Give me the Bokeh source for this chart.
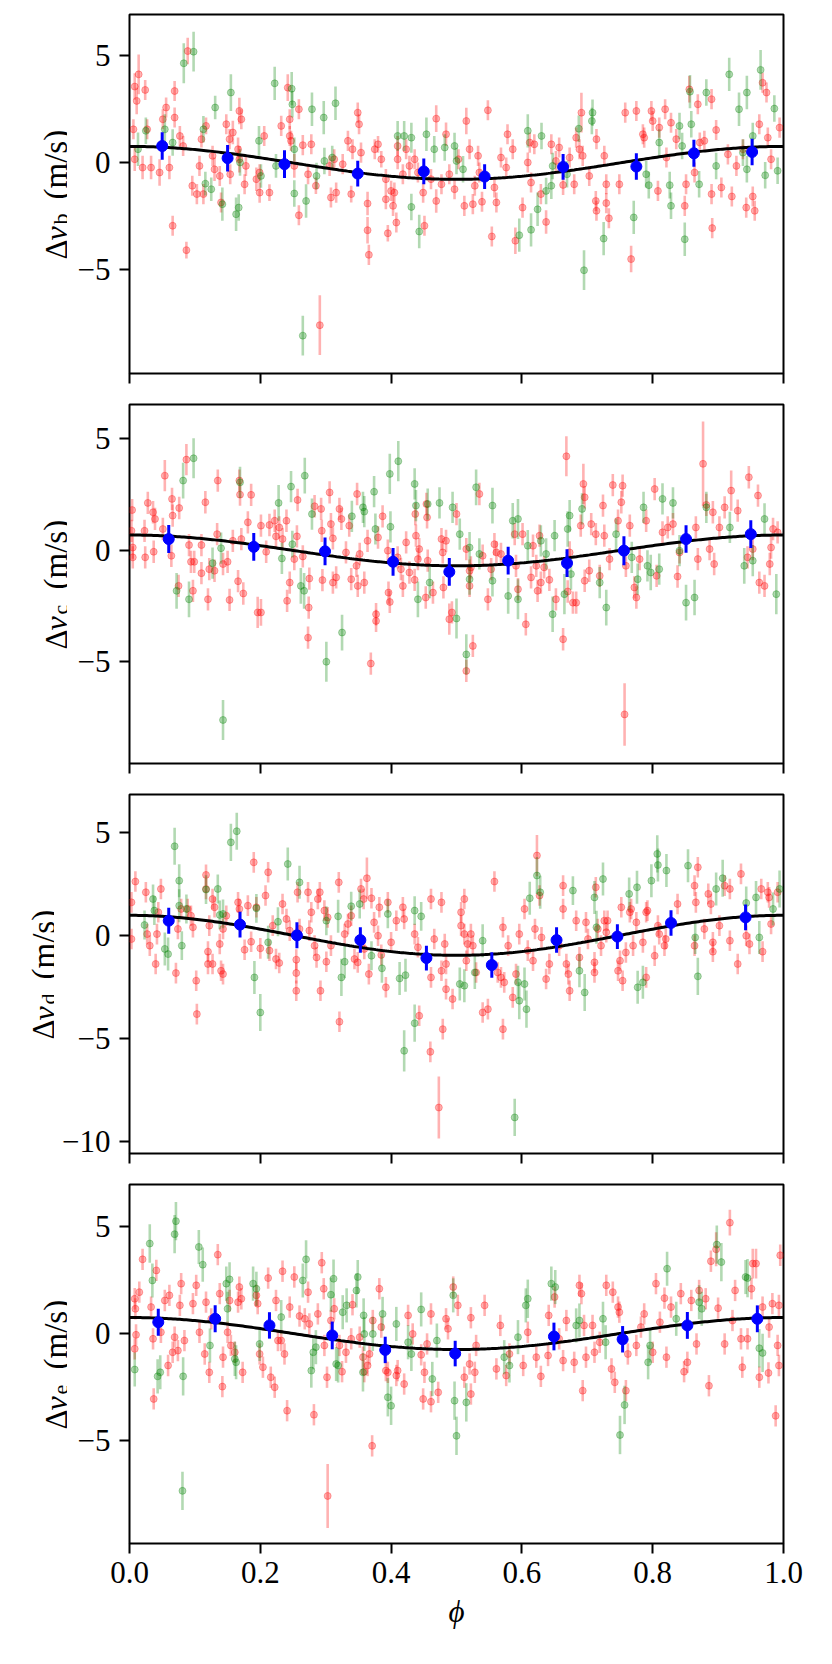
import math
import numpy as np
from bokeh.plotting import figure
from bokeh.layouts import column, row
from bokeh.models import ColumnDataSource, Range1d, FixedTicker, NumeralTickFormatter, Label
from bokeh.embed import file_html
from bokeh.resources import INLINE

FONT = "Liberation Serif, Times New Roman, serif"
PLANETS = ["b", "c", "d", "e"]
PHASE_TICKS = [0.0, 0.2, 0.4, 0.6, 0.8, 1.0]
Y_RANGES = [(-9.85, 6.94), (-9.55, 6.54), (-10.58, 6.83), (-9.85, 6.99)]
Y_TICKS = [[-5, 0, 5], [-5, 0, 5], [-10, -5, 0, 5], [-5, 0, 5]]
AMPLITUDE = [0.77, 0.69, 0.97, 0.75]   # fitted semi-amplitude of the model curve (m/s)

# (phase, delta v, error) -- panel b
RED_B = [
    (0.014, 4.14, 0.93), (0.008, 3.57, 0.62), (0.011, 2.90, 0.62), (0.024, 3.41, 0.47), (0.006, 1.57, 0.47),
    (0.027, 1.57, 0.47), (0.008, 0.17, 0.55), (0.020, -0.22, 0.55), (0.033, -0.22, 0.55), (0.046, -0.45, 0.62),
    (0.051, 2.04, 0.47), (0.056, 2.59, 0.47), (0.061, -0.22, 0.55), (0.066, -2.94, 0.47), (0.069, 3.36, 0.47),
    (0.069, 2.12, 0.47), (0.077, 1.26, 0.47), (0.082, 0.79, 0.47), (0.087, -4.08, 0.39), (0.089, 5.23, 0.62),
    (0.096, -1.07, 0.47), (0.103, -1.46, 0.47), (0.107, -0.14, 0.47), (0.113, -1.46, 0.47), (0.117, 1.73, 0.39),
    (0.110, 1.11, 0.39), (0.127, 0.33, 0.47), (0.130, -0.30, 0.55), (0.138, -0.61, 0.47), (0.140, -1.85, 0.47),
    (0.148, 1.81, 0.47), (0.153, 1.11, 0.47), (0.154, -0.53, 0.47), (0.158, 1.42, 0.55), (0.168, 2.43, 0.62),
    (0.171, 2.04, 0.47), (0.166, 0.64, 0.55), (0.168, 0.17, 0.62), (0.176, -1.00, 0.47), (0.178, -0.14, 0.47),
    (0.194, -0.76, 0.55), (0.199, -1.39, 0.47), (0.199, -0.45, 0.39), (0.206, 1.26, 0.47), (0.214, -1.39, 0.39),
    (0.232, 1.73, 0.47), (0.237, -0.14, 0.47), (0.242, 3.52, 0.62), (0.245, 2.04, 0.47), (0.245, 1.26, 0.47),
    (0.247, 1.03, 0.47), (0.252, -0.14, 0.55), (0.259, 2.51, 0.47), (0.259, -2.45, 0.47), (0.265, 0.83, 0.47),
    (0.273, -0.53, 0.47), (0.278, 0.87, 0.47), (0.285, -1.07, 0.39), (0.291, -7.59, 1.40), (0.306, -0.14, 0.47),
    (0.308, -1.62, 0.47), (0.313, 0.17, 0.47), (0.316, -1.39, 0.47), (0.326, -0.06, 0.47), (0.334, 1.03, 0.47),
    (0.339, -1.46, 0.39), (0.341, 0.64, 0.47), (0.349, 2.35, 0.47), (0.351, 1.81, 0.47), (0.354, 0.48, 0.47),
    (0.364, -1.90, 0.55), (0.364, -3.15, 0.62), (0.366, -4.30, 0.47), (0.375, 0.64, 0.47), (0.380, 0.87, 0.39),
    (0.385, 0.17, 0.39), (0.392, -0.76, 0.47), (0.392, -1.70, 0.47), (0.395, -3.29, 0.39), (0.400, -1.31, 0.47),
    (0.403, -2.01, 0.47), (0.405, -1.39, 0.47), (0.408, -2.79, 0.47), (0.410, 0.17, 0.47), (0.410, 0.79, 0.47),
    (0.418, -0.53, 0.47), (0.423, 0.64, 0.47), (0.428, -0.14, 0.47), (0.436, 0.17, 0.47), (0.451, -2.94, 0.47),
    (0.449, -1.39, 0.47), (0.441, -0.45, 0.47), (0.461, -0.76, 0.47), (0.469, 2.07, 0.62), (0.469, -1.78, 0.55),
    (0.477, -1.00, 0.47), (0.484, 1.34, 0.55), (0.489, -0.53, 0.47), (0.497, -1.23, 0.47), (0.503, 0.17, 0.47),
    (0.512, -2.01, 0.47), (0.515, 1.96, 0.62), (0.520, 0.64, 0.47), (0.525, -1.93, 0.47), (0.528, -1.07, 0.47),
    (0.533, 0.33, 0.47), (0.535, -0.45, 0.47), (0.539, -1.82, 0.47), (0.548, 2.46, 0.47), (0.554, -3.44, 0.47),
    (0.558, -1.15, 0.47), (0.561, -1.85, 0.47), (0.568, 0.25, 0.47), (0.576, -0.22, 0.47), (0.578, 1.34, 0.47),
    (0.586, 0.64, 0.47), (0.590, -3.64, 0.62), (0.601, -2.09, 0.47), (0.609, 0.02, 0.47), (0.612, 0.95, 0.47),
    (0.614, -0.92, 0.47), (0.619, 0.87, 0.47), (0.629, -1.46, 0.47), (0.637, -2.76, 0.55), (0.645, 0.87, 0.47),
    (0.652, 0.09, 0.47), (0.657, 0.72, 0.47), (0.663, -1.03, 0.47), (0.673, 0.25, 0.47), (0.680, -1.00, 0.47),
    (0.683, 1.18, 0.47), (0.691, 2.35, 0.93), (0.688, 0.64, 0.47), (0.693, 0.33, 0.47), (0.703, -0.61, 0.47),
    (0.713, -1.78, 0.47), (0.714, 1.11, 0.47), (0.714, -2.24, 0.47), (0.726, 0.33, 0.47), (0.729, -1.00, 0.47),
    (0.729, -1.88, 0.47), (0.733, -2.59, 0.47), (0.749, -1.00, 0.47), (0.758, 2.35, 0.47), (0.767, -4.50, 0.62),
    (0.775, 2.43, 0.47), (0.785, 1.34, 0.47), (0.787, 1.18, 0.47), (0.798, 2.43, 0.47), (0.800, 1.96, 0.47),
    (0.808, -1.31, 0.47), (0.810, 1.65, 0.47), (0.819, 2.51, 0.47), (0.821, 0.25, 0.47), (0.828, 1.88, 0.47),
    (0.836, 1.11, 0.47), (0.849, -2.01, 0.47), (0.851, -1.00, 0.47), (0.856, 3.44, 0.62), (0.864, -0.45, 0.47),
    (0.869, 2.74, 0.47), (0.872, 0.95, 0.47), (0.879, 1.03, 0.47), (0.890, 2.98, 0.47), (0.890, -1.46, 0.47),
    (0.891, -3.05, 0.47), (0.897, 1.54, 0.47), (0.905, -1.15, 0.47), (0.915, 0.40, 0.47), (0.921, -1.57, 0.47),
    (0.928, -0.14, 0.47), (0.938, 0.64, 0.47), (0.943, -2.09, 0.47), (0.953, -1.57, 0.47), (0.956, -2.24, 0.47),
    (0.963, 1.81, 0.47), (0.968, 3.75, 0.47), (0.974, 3.29, 0.47), (0.976, 1.18, 0.47), (0.981, 0.17, 0.47),
    (0.994, 1.65, 0.47),
]
GREEN_B = [
    (0.013, 0.64, 0.78), (0.025, 1.50, 0.62), (0.054, 1.57, 0.70), (0.066, 0.95, 0.62), (0.083, 4.66, 0.93),
    (0.098, 5.20, 0.93), (0.113, 1.57, 0.62), (0.116, -0.97, 0.55), (0.125, -1.23, 0.55), (0.131, 2.59, 0.55),
    (0.142, -1.93, 0.78), (0.155, 3.29, 0.86), (0.163, -2.40, 0.78), (0.167, -2.09, 0.62), (0.169, 0.02, 0.62),
    (0.198, 1.03, 0.70), (0.201, -0.61, 0.55), (0.222, 3.72, 0.78), (0.224, -0.14, 0.55), (0.248, 3.47, 0.78),
    (0.249, 2.74, 0.62), (0.252, 0.64, 0.55), (0.252, -1.43, 0.62), (0.270, -1.78, 0.78), (0.279, 2.51, 0.78),
    (0.286, -0.61, 0.62), (0.297, 2.12, 0.78), (0.298, 0.09, 0.62), (0.310, 0.25, 0.55), (0.315, 2.79, 0.78),
    (0.410, 1.26, 0.70), (0.420, 1.26, 0.70), (0.431, 1.18, 0.70), (0.431, -2.06, 0.62), (0.443, -3.21, 0.78),
    (0.454, 1.34, 0.78), (0.265, -8.08, 0.93), (0.466, 0.64, 0.62), (0.482, 0.72, 0.62), (0.497, 0.79, 0.62),
    (0.500, 0.09, 0.62), (0.510, -0.30, 0.62), (0.596, -3.38, 0.78), (0.609, 1.50, 0.78), (0.614, -3.13, 0.78),
    (0.624, -2.17, 0.78), (0.630, 1.26, 0.62), (0.637, -1.31, 0.62), (0.645, -1.07, 0.62), (0.647, -0.14, 0.62),
    (0.669, -0.53, 0.62), (0.687, 1.60, 0.62), (0.695, -5.02, 0.93), (0.708, 2.35, 0.62), (0.707, 1.96, 0.62),
    (0.725, -3.54, 0.78), (0.771, -2.55, 0.78), (0.790, -0.53, 0.62), (0.794, -1.04, 0.62), (0.810, 0.95, 0.62),
    (0.826, -1.04, 0.62), (0.828, -2.01, 0.62), (0.841, 1.73, 0.62), (0.845, 0.79, 0.62), (0.849, -3.57, 0.78),
    (0.859, 1.81, 0.62), (0.857, 3.33, 0.78), (0.871, -1.00, 0.62), (0.882, 3.29, 0.62), (0.897, -0.14, 0.62),
    (0.917, 4.14, 0.78), (0.932, 2.51, 0.78), (0.944, 3.29, 0.78), (0.953, 1.26, 0.62), (0.944, -0.30, 0.62),
    (0.965, 4.35, 0.93), (0.972, -0.58, 0.62), (0.986, 2.54, 0.62), (0.991, -0.37, 0.62), (0.938, 0.48, 0.62),
]
BLUE_B = [
    (0.050, 0.79, 0.64), (0.150, 0.22, 0.62), (0.237, -0.06, 0.65), (0.349, -0.50, 0.60), (0.450, -0.40, 0.60),
    (0.543, -0.64, 0.58), (0.663, -0.19, 0.60), (0.775, -0.17, 0.62), (0.863, 0.45, 0.63), (0.952, 0.51, 0.62),
]

# panel c
RED_C = [
    (0.004, 1.81, 0.5), (0.003, 0.88, 0.5), (0.005, 0.13, 0.5), (0.005, -0.31, 0.5), (0.023, 0.88, 0.5),
    (0.024, -0.31, 0.5), (0.028, 2.13, 0.5), (0.036, 1.71, 0.5), (0.037, -0.06, 0.5), (0.039, 1.41, 0.5),
    (0.051, 0.96, 0.5), (0.054, 3.35, 0.7), (0.064, -0.24, 0.5), (0.065, 2.31, 0.5), (0.066, 1.56, 0.5),
    (0.075, -1.59, 0.5), (0.076, 1.90, 0.5), (0.087, 4.07, 0.7), (0.091, 0.24, 0.5), (0.094, -0.51, 0.5),
    (0.097, -1.81, 0.5), (0.099, -0.51, 0.5), (0.110, 0.24, 0.5), (0.110, -1.02, 0.5), (0.116, 2.16, 0.5),
    (0.120, -2.19, 0.5), (0.122, -0.84, 0.5), (0.130, -0.91, 0.5), (0.135, 3.13, 0.5), (0.134, 0.73, 0.5),
    (0.143, -0.61, 0.5), (0.150, -0.51, 0.5), (0.153, -2.22, 0.5), (0.158, 0.43, 0.5), (0.166, -1.38, 0.5),
    (0.168, 3.13, 0.5), (0.169, 2.50, 0.5), (0.171, 0.51, 0.5), (0.174, -1.93, 0.5), (0.181, 1.26, 0.5),
    (0.186, 2.49, 0.5), (0.196, -2.78, 0.7), (0.201, -2.78, 0.6), (0.201, 1.11, 0.5), (0.209, -0.06, 0.5),
    (0.214, 1.14, 0.5), (0.222, 1.33, 0.5), (0.224, 0.63, 0.5), (0.229, 1.03, 0.5), (0.234, 0.51, 0.5),
    (0.240, 1.33, 0.5), (0.241, -2.26, 0.5), (0.245, -1.44, 0.5), (0.252, -0.39, 0.5), (0.256, 0.63, 0.5),
    (0.257, 2.26, 0.5), (0.265, -0.27, 0.5), (0.273, -3.91, 0.5), (0.274, -2.56, 0.5), (0.275, -1.26, 0.5),
    (0.283, 1.98, 0.5), (0.293, 1.86, 0.5), (0.294, 0.88, 0.5), (0.295, -1.33, 0.5), (0.306, 2.60, 0.5),
    (0.308, 1.18, 0.5), (0.311, 0.54, 0.5), (0.311, -1.44, 0.5), (0.316, -1.21, 0.5), (0.321, 1.86, 0.5),
    (0.324, 1.41, 0.5), (0.331, -0.09, 0.5), (0.336, 1.11, 0.5), (0.339, -1.29, 0.5), (0.348, 2.53, 0.5),
    (0.347, -0.69, 0.5), (0.349, -1.59, 0.5), (0.352, -0.16, 0.5), (0.359, -1.44, 0.5), (0.364, 0.43, 0.5),
    (0.369, -5.07, 0.5), (0.377, -2.86, 0.5), (0.377, -3.16, 0.5), (0.380, 0.58, 0.5), (0.387, 1.53, 0.5),
    (0.395, -0.01, 0.5), (0.396, -1.89, 0.5), (0.398, -2.31, 0.5), (0.410, -0.31, 0.5), (0.415, -0.84, 0.5),
    (0.418, -1.59, 0.5), (0.423, 0.36, 0.5), (0.428, -0.99, 0.5), (0.436, -1.32, 0.5), (0.437, 1.63, 0.5),
    (0.443, 0.06, 0.5), (0.453, -2.11, 0.5), (0.455, 1.48, 0.5), (0.438, 0.66, 0.5), (0.441, -0.39, 0.5),
    (0.454, 2.08, 0.5), (0.456, -0.46, 0.5), (0.464, -1.89, 0.5), (0.477, 0.51, 0.5), (0.479, -0.09, 0.5),
    (0.480, -1.66, 0.5), (0.484, 0.43, 0.5), (0.489, -3.08, 0.7), (0.493, -2.78, 0.5), (0.500, 1.63, 0.5),
    (0.515, 0.06, 0.5), (0.520, -0.91, 0.5), (0.520, -1.59, 0.5), (0.522, -0.76, 0.5), (0.525, -4.28, 0.5),
    (0.515, -5.40, 0.5), (0.535, 2.53, 0.5), (0.540, -0.24, 0.5), (0.548, -2.19, 0.5), (0.553, -0.84, 0.5),
    (0.558, 0.28, 0.5), (0.561, -0.09, 0.5), (0.568, -0.16, 0.5), (0.589, 0.73, 0.5), (0.591, -0.69, 0.5),
    (0.594, -1.74, 0.5), (0.601, 0.73, 0.5), (0.606, -3.31, 0.5), (0.614, -1.21, 0.5), (0.617, 0.21, 0.5),
    (0.622, -0.69, 0.5), (0.624, -1.81, 0.5), (0.627, 0.66, 0.5), (0.629, -1.44, 0.5), (0.634, -0.76, 0.5),
    (0.642, -1.32, 0.5), (0.652, -2.19, 0.5), (0.663, -3.98, 0.5), (0.668, 4.22, 0.9), (0.670, -1.84, 0.5),
    (0.673, -0.09, 0.5), (0.678, -2.34, 0.5), (0.683, -2.34, 0.5), (0.690, 1.11, 0.5), (0.694, 2.98, 0.9),
    (0.696, 2.38, 0.5), (0.696, -1.36, 0.5), (0.703, -0.91, 0.5), (0.706, 1.18, 0.5), (0.713, 0.73, 0.5),
    (0.719, -1.14, 0.5), (0.724, 2.01, 0.5), (0.726, 0.66, 0.5), (0.734, -0.39, 0.5), (0.739, 2.93, 0.5),
    (0.747, 1.33, 0.5), (0.752, 2.16, 0.5), (0.754, 2.90, 0.5), (0.757, -7.35, 1.4), (0.759, -0.69, 0.5),
    (0.765, 1.11, 0.5), (0.772, -1.66, 0.5), (0.775, -2.11, 0.5), (0.780, -0.39, 0.5), (0.790, 1.33, 0.5),
    (0.803, 2.75, 0.5), (0.806, -1.14, 0.5), (0.815, 0.81, 0.5), (0.823, 1.03, 0.5), (0.831, 1.18, 0.5),
    (0.838, -1.17, 0.5), (0.841, -0.09, 0.5), (0.866, 1.03, 0.5), (0.869, -0.39, 0.5), (0.877, 3.88, 1.9),
    (0.882, 2.04, 0.5), (0.887, 0.06, 0.5), (0.892, 1.71, 0.5), (0.894, -0.61, 0.5), (0.902, 1.03, 0.5),
    (0.910, 1.93, 0.5), (0.920, 2.68, 0.9), (0.930, 1.78, 0.5), (0.945, -0.31, 0.5), (0.947, 3.28, 0.5),
    (0.953, 0.06, 0.5), (0.961, 2.46, 0.5), (0.963, -1.44, 0.5), (0.971, -1.59, 0.5), (0.979, -0.61, 0.5),
    (0.981, 0.13, 0.5), (0.984, 0.96, 0.5), (0.991, 0.81, 0.5),
]
GREEN_C = [
    (0.072, -1.81, 0.8), (0.082, 3.13, 0.8), (0.091, -2.19, 0.8), (0.098, 4.13, 0.9), (0.127, -0.57, 0.7),
    (0.140, 0.10, 0.7), (0.143, -7.60, 0.9), (0.169, 3.05, 0.7), (0.228, 2.13, 0.8), (0.233, -0.36, 0.7),
    (0.247, 2.86, 0.7), (0.249, 0.28, 0.6), (0.262, -1.59, 0.8), (0.267, -1.81, 0.8), (0.268, 3.35, 0.8),
    (0.279, 1.63, 0.7), (0.301, -4.99, 0.9), (0.325, -3.68, 0.8), (0.340, 1.53, 0.7), (0.357, 1.93, 0.7),
    (0.359, 1.74, 0.7), (0.374, 2.63, 0.7), (0.376, 0.96, 0.7), (0.398, 3.43, 0.9), (0.399, 1.06, 0.7),
    (0.411, 4.00, 0.9), (0.436, 2.98, 0.7), (0.438, 2.01, 0.7), (0.441, -2.19, 0.8), (0.456, 2.08, 0.7),
    (0.459, -1.44, 0.7), (0.474, 2.13, 0.7), (0.494, 1.93, 0.7), (0.500, -3.05, 0.9), (0.505, 0.73, 0.7),
    (0.515, -4.66, 0.9), (0.520, 0.13, 0.7), (0.520, -1.29, 0.7), (0.530, 2.83, 0.8), (0.535, -0.16, 0.7),
    (0.555, 2.01, 0.8), (0.555, -1.36, 0.7), (0.579, -2.04, 0.8), (0.586, 1.33, 0.8), (0.594, 1.41, 0.9),
    (0.594, -2.19, 0.9), (0.609, 0.21, 0.7), (0.629, 0.43, 0.7), (0.637, -0.16, 0.7), (0.647, -2.86, 0.8),
    (0.650, 0.66, 0.7), (0.665, -1.96, 0.9), (0.670, 0.96, 0.8), (0.673, 1.56, 0.7), (0.675, -1.06, 0.7),
    (0.692, 1.86, 0.7), (0.719, -1.44, 0.7), (0.729, -2.56, 0.8), (0.744, 0.73, 0.7), (0.768, -0.31, 0.7),
    (0.777, -1.29, 0.7), (0.786, 1.93, 0.7), (0.792, -0.69, 0.7), (0.797, -0.99, 0.8), (0.810, -0.84, 0.7),
    (0.815, 2.31, 0.7), (0.831, 2.13, 0.7), (0.841, -0.01, 0.7), (0.851, -2.34, 0.8), (0.864, -2.11, 0.8),
    (0.882, 1.93, 0.7), (0.918, 1.03, 0.7), (0.940, -0.69, 0.8), (0.953, -0.46, 0.7), (0.971, 1.41, 0.7),
    (0.989, -1.96, 0.9),
]
BLUE_C = [
    (0.060, 0.51, 0.63), (0.190, 0.16, 0.62), (0.299, -0.04, 0.62), (0.403, -0.51, 0.62), (0.489, -0.96, 0.62),
    (0.579, -0.46, 0.62), (0.669, -0.57, 0.62), (0.756, -0.01, 0.65), (0.851, 0.51, 0.62), (0.950, 0.73, 0.62),
]

# panel d
RED_D = [
    (0.003, 1.60, 0.5), (0.003, -0.18, 0.5), (0.009, 2.61, 0.5), (0.025, 2.09, 0.5), (0.027, 0.06, 0.5),
    (0.031, -0.50, 0.5), (0.040, -1.39, 0.5), (0.042, 0.06, 0.5), (0.044, 1.12, 0.5), (0.048, 2.25, 0.5),
    (0.071, -1.83, 0.5), (0.074, 0.31, 0.5), (0.079, 1.28, 0.5), (0.089, 1.28, 0.5), (0.094, 0.95, 0.5),
    (0.097, 0.39, 0.5), (0.102, -2.20, 0.5), (0.103, -3.82, 0.5), (0.117, 2.93, 0.5), (0.117, 2.25, 0.5),
    (0.120, -0.79, 0.5), (0.120, -1.39, 0.5), (0.122, 0.47, 0.5), (0.127, 1.76, 0.5), (0.127, -1.39, 0.5),
    (0.130, 1.36, 0.5), (0.138, -0.42, 0.5), (0.140, -1.72, 0.5), (0.143, -1.88, 0.5), (0.143, 0.31, 0.5),
    (0.148, 0.95, 0.5), (0.166, 1.60, 0.5), (0.168, 1.28, 0.5), (0.176, -0.70, 0.5), (0.181, 1.44, 0.5),
    (0.186, -0.31, 0.5), (0.190, 3.54, 0.5), (0.194, 1.36, 0.5), (0.200, -0.63, 0.5), (0.208, 1.93, 0.5),
    (0.212, 3.06, 0.5), (0.214, -0.74, 0.5), (0.219, 0.47, 0.5), (0.224, -1.15, 0.5), (0.229, -1.34, 0.5),
    (0.234, 1.52, 0.5), (0.240, 0.79, 0.5), (0.245, 0.23, 0.5), (0.255, -1.18, 0.5), (0.255, -1.83, 0.5),
    (0.255, -2.69, 0.5), (0.257, 2.09, 0.5), (0.260, 0.31, 0.5), (0.273, 2.09, 0.5), (0.275, 0.23, 0.5),
    (0.278, 1.12, 0.5), (0.283, -0.50, 0.5), (0.286, -1.07, 0.5), (0.288, 1.76, 0.5), (0.291, 2.09, 0.5),
    (0.292, -2.69, 0.5), (0.298, 1.20, 0.5), (0.301, -1.28, 0.5), (0.303, 0.87, 0.5), (0.308, -0.50, 0.5),
    (0.320, 2.57, 0.5), (0.321, -4.19, 0.5), (0.329, 0.06, 0.5), (0.334, 0.55, 0.5), (0.339, 0.95, 0.5),
    (0.344, -1.15, 0.5), (0.349, -1.31, 0.5), (0.354, 2.25, 0.5), (0.358, 1.76, 0.5), (0.359, -0.66, 0.5),
    (0.363, 2.77, 1.0), (0.366, -1.88, 0.5), (0.370, 1.80, 0.5), (0.374, 0.63, 0.5), (0.380, -0.02, 0.5),
    (0.382, 1.36, 0.5), (0.385, -0.95, 0.5), (0.392, -2.52, 0.5), (0.395, 1.60, 0.5), (0.400, -0.34, 0.5),
    (0.408, 0.71, 0.5), (0.418, 1.36, 0.5), (0.420, 0.79, 0.5), (0.436, 0.06, 0.5), (0.441, -0.58, 0.5),
    (0.443, -3.90, 0.5), (0.460, -5.65, 0.5), (0.461, 1.76, 0.5), (0.461, -2.04, 0.5), (0.466, -0.18, 0.5),
    (0.473, -8.35, 1.5), (0.477, 1.60, 0.5), (0.477, -1.72, 0.5), (0.479, -4.55, 0.5), (0.482, -0.42, 0.5),
    (0.484, -1.39, 0.5), (0.484, -2.61, 0.5), (0.494, -3.09, 0.5), (0.507, 1.12, 0.5), (0.507, 0.47, 0.5),
    (0.512, 1.76, 0.5), (0.512, 0.06, 0.5), (0.515, -1.23, 0.5), (0.517, -0.42, 0.5), (0.522, 0.06, 0.5),
    (0.525, -0.50, 0.5), (0.530, -1.80, 0.5), (0.540, -3.74, 0.5), (0.548, -3.58, 0.5), (0.558, 2.61, 0.5),
    (0.563, -1.80, 0.5), (0.568, -2.04, 0.5), (0.571, 0.39, 0.5), (0.571, -4.55, 0.5), (0.573, -2.28, 0.5),
    (0.579, -0.50, 0.5), (0.586, -3.01, 0.5), (0.591, -1.88, 0.5), (0.596, 0.06, 0.5), (0.604, 1.28, 0.5),
    (0.609, -0.74, 0.5), (0.617, -1.23, 0.5), (0.620, 0.31, 0.5), (0.623, 3.87, 1.0), (0.627, 1.93, 0.5),
    (0.630, -0.10, 0.5), (0.637, -2.12, 0.5), (0.642, -1.39, 0.5), (0.657, -0.50, 0.5), (0.663, 2.41, 0.5),
    (0.663, 1.28, 0.5), (0.668, -1.39, 0.5), (0.671, -1.88, 0.5), (0.673, -2.69, 0.5), (0.683, 0.71, 0.5),
    (0.688, -1.07, 0.5), (0.698, 0.63, 0.5), (0.701, -0.18, 0.5), (0.711, -1.31, 0.5), (0.711, -1.80, 0.5),
    (0.713, 2.33, 0.5), (0.716, 0.31, 0.5), (0.721, -0.50, 0.5), (0.726, 0.71, 0.5), (0.729, 0.15, 0.5),
    (0.731, 0.71, 0.5), (0.747, -1.72, 0.5), (0.750, -1.23, 0.5), (0.752, 1.36, 0.5), (0.754, -2.20, 0.5),
    (0.759, -0.83, 0.5), (0.765, 1.12, 0.5), (0.767, 1.28, 0.5), (0.770, -0.50, 0.5), (0.775, 0.63, 0.5),
    (0.785, -0.34, 0.5), (0.790, 1.12, 0.5), (0.790, -2.04, 0.5), (0.792, 1.20, 0.5), (0.803, -0.99, 0.5),
    (0.808, 0.47, 0.5), (0.810, 0.06, 0.5), (0.818, -0.50, 0.5), (0.820, -0.18, 0.5), (0.838, 1.52, 0.5),
    (0.864, 2.41, 0.5), (0.864, -0.50, 0.5), (0.866, 1.60, 0.5), (0.869, 3.30, 0.5), (0.879, 0.31, 0.5),
    (0.885, 2.01, 0.5), (0.889, 1.52, 0.5), (0.892, -0.34, 0.5), (0.892, -0.79, 0.5), (0.902, 0.47, 0.5),
    (0.910, 2.41, 0.5), (0.918, 2.25, 0.5), (0.918, -0.26, 0.5), (0.930, -1.39, 0.5), (0.935, 2.98, 0.5),
    (0.943, -0.02, 0.5), (0.948, -0.42, 0.5), (0.966, 2.25, 0.5), (0.968, -0.79, 0.5), (0.976, 2.09, 0.5),
    (0.978, 1.84, 0.5), (0.981, 0.55, 0.5), (0.991, 2.09, 0.5),
]
GREEN_D = [
    (0.023, 0.50, 0.7), (0.036, 1.76, 0.7), (0.038, 1.20, 0.7), (0.054, -0.66, 0.8), (0.059, -0.91, 0.8),
    (0.069, 4.32, 0.9), (0.076, 2.65, 0.8), (0.076, 1.44, 0.8), (0.080, -0.50, 0.7), (0.087, 1.28, 0.7),
    (0.117, 2.22, 0.7), (0.135, 2.25, 0.7), (0.138, 0.99, 0.7), (0.143, 1.04, 0.7), (0.155, 4.51, 0.9),
    (0.164, 5.05, 0.9), (0.191, -2.04, 0.8), (0.194, 1.31, 0.7), (0.200, -3.74, 0.9), (0.212, -0.34, 0.8),
    (0.227, 0.66, 0.7), (0.242, 3.46, 0.8), (0.260, 2.57, 0.8), (0.301, 0.71, 0.7), (0.319, 0.92, 0.8),
    (0.324, -2.04, 0.9), (0.329, -1.28, 0.8), (0.339, 1.41, 0.7), (0.352, 1.52, 0.7), (0.370, -0.99, 0.7),
    (0.386, -1.60, 0.7), (0.395, 1.04, 0.7), (0.413, -2.09, 0.8), (0.422, -1.93, 0.8), (0.420, -5.60, 1.0),
    (0.436, -4.26, 0.9), (0.436, 1.20, 0.7), (0.446, 0.92, 0.7), (0.505, -2.36, 0.8), (0.512, -2.44, 0.8),
    (0.528, -1.80, 0.8), (0.540, -0.26, 0.8), (0.589, -8.83, 0.9), (0.594, -2.28, 0.8), (0.596, -3.17, 0.9),
    (0.607, -3.58, 0.9), (0.604, -2.36, 0.8), (0.612, 1.80, 0.8), (0.623, 2.90, 0.9), (0.628, 2.09, 0.8),
    (0.678, 2.17, 0.7), (0.688, -1.72, 0.8), (0.696, -2.77, 0.9), (0.711, 1.84, 0.8), (0.714, 0.39, 0.8),
    (0.724, 2.73, 0.8), (0.764, 2.01, 0.8), (0.776, 2.33, 0.8), (0.777, -2.52, 0.8), (0.785, -2.28, 0.8),
    (0.798, 2.65, 0.8), (0.807, 3.95, 0.9), (0.808, 3.41, 0.8), (0.821, 3.14, 0.8), (0.854, 3.38, 0.8),
    (0.865, -0.10, 0.8), (0.869, -1.99, 0.9), (0.897, 2.25, 0.8), (0.907, 2.77, 0.9), (0.943, 1.57, 0.8),
    (0.958, 1.84, 0.8), (0.963, -0.10, 0.8), (0.984, 1.28, 0.8), (0.994, 2.25, 0.9),
]
BLUE_D = [
    (0.060, 0.71, 0.63), (0.169, 0.52, 0.62), (0.256, 0.00, 0.63), (0.353, -0.23, 0.62), (0.454, -1.10, 0.60),
    (0.554, -1.44, 0.62), (0.653, -0.23, 0.62), (0.746, -0.06, 0.60), (0.828, 0.60, 0.62), (0.942, 0.87, 0.62),
]

# panel e
RED_E = [
    (0.008, 1.63, 0.5), (0.009, 1.16, 0.5), (0.010, -0.06, 0.5), (0.008, -0.72, 0.5), (0.015, 1.94, 0.5),
    (0.020, 3.48, 0.5), (0.033, 1.24, 0.5), (0.036, -0.25, 0.5), (0.037, -3.07, 0.5), (0.041, 2.96, 0.5),
    (0.048, 0.06, 0.5), (0.054, 1.55, 0.5), (0.059, -1.50, 0.5), (0.061, 1.79, 0.5), (0.066, -0.88, 0.5),
    (0.069, -0.17, 0.5), (0.074, -0.80, 0.5), (0.077, 1.32, 0.5), (0.079, 2.34, 0.5), (0.084, -0.33, 0.5),
    (0.097, 1.40, 0.5), (0.102, 2.26, 0.5), (0.107, 0.06, 0.5), (0.115, -0.96, 0.5), (0.117, 1.47, 0.5),
    (0.122, -1.82, 0.5), (0.125, 0.69, 0.5), (0.135, 3.70, 0.5), (0.138, 1.87, 0.5), (0.142, -2.49, 0.5),
    (0.143, -1.11, 0.5), (0.150, 0.06, 0.5), (0.153, 1.55, 0.5), (0.155, -0.56, 0.5), (0.161, -0.88, 0.5),
    (0.166, 1.47, 0.5), (0.168, 2.18, 0.5), (0.171, 1.63, 0.5), (0.173, -1.82, 0.5), (0.194, 1.79, 0.5),
    (0.196, 1.40, 0.5), (0.199, -0.96, 0.5), (0.204, -1.58, 0.5), (0.212, 2.60, 0.5), (0.216, -2.05, 0.5),
    (0.222, -2.52, 0.5), (0.224, 1.55, 0.5), (0.227, -0.33, 0.5), (0.232, -0.33, 0.5), (0.234, 2.92, 0.5),
    (0.237, -0.96, 0.5), (0.241, -3.62, 0.5), (0.245, 1.24, 0.5), (0.252, 2.65, 0.5), (0.260, 0.82, 0.5),
    (0.273, 1.94, 0.5), (0.268, 0.69, 0.5), (0.275, 0.45, 0.5), (0.282, -3.81, 0.5), (0.288, 0.92, 0.5),
    (0.294, 3.32, 0.5), (0.297, 2.10, 0.5), (0.298, -0.56, 0.5), (0.302, -2.05, 0.5), (0.303, -7.62, 1.5),
    (0.308, 0.61, 0.5), (0.313, 1.16, 0.5), (0.321, -0.56, 0.5), (0.325, -1.79, 0.5), (0.331, -0.88, 0.5),
    (0.339, -0.25, 0.5), (0.341, 1.35, 0.5), (0.352, -0.17, 0.5), (0.357, -1.11, 0.5), (0.359, -1.79, 0.5),
    (0.364, -1.50, 0.5), (0.367, -0.96, 0.5), (0.371, -5.27, 0.5), (0.372, 0.61, 0.5), (0.382, 2.10, 0.5),
    (0.385, 0.30, 0.5), (0.392, -1.74, 0.5), (0.395, -1.82, 0.5), (0.408, -1.97, 0.5), (0.410, -1.74, 0.5),
    (0.420, -2.37, 0.5), (0.426, 0.85, 0.5), (0.433, -0.02, 0.5), (0.446, -1.00, 0.5), (0.449, -3.07, 0.5),
    (0.451, -1.82, 0.5), (0.461, 0.92, 0.5), (0.461, -3.20, 0.5), (0.455, -0.49, 0.5), (0.472, -2.76, 0.5),
    (0.484, 0.69, 0.5), (0.487, 0.22, 0.5), (0.495, 2.18, 0.5), (0.502, 1.32, 0.5), (0.512, -2.05, 0.5),
    (0.520, -1.43, 0.5), (0.522, -2.84, 0.5), (0.522, 0.74, 0.5), (0.528, -1.82, 0.5), (0.530, -0.56, 0.5),
    (0.543, 1.32, 0.5), (0.561, -1.66, 0.5), (0.567, 0.38, 0.5), (0.576, -1.97, 0.5), (0.581, -0.96, 0.5),
    (0.602, -1.50, 0.5), (0.609, 0.06, 0.5), (0.622, -1.11, 0.5), (0.629, -2.01, 0.5), (0.640, -1.03, 0.5),
    (0.641, 0.85, 0.5), (0.650, 1.71, 0.5), (0.657, -0.25, 0.5), (0.663, -1.27, 0.5), (0.668, 0.61, 0.5),
    (0.680, -1.35, 0.5), (0.688, 2.26, 0.5), (0.691, 1.87, 0.5), (0.693, -2.68, 0.5), (0.695, 0.38, 0.5),
    (0.698, -1.11, 0.5), (0.708, 0.38, 0.5), (0.711, -0.88, 0.5), (0.719, -0.41, 0.5), (0.729, 2.26, 0.5),
    (0.737, -1.66, 0.5), (0.739, 1.94, 0.5), (0.742, -2.29, 0.5), (0.747, 1.24, 0.5), (0.749, 1.00, 0.5),
    (0.759, -2.68, 0.5), (0.762, -0.96, 0.5), (0.775, -0.56, 0.5), (0.782, 0.30, 0.5), (0.787, 0.92, 0.5),
    (0.800, -0.88, 0.5), (0.805, 2.34, 0.5), (0.811, 0.53, 0.5), (0.818, 1.66, 0.5), (0.821, -1.11, 0.5),
    (0.828, 1.24, 0.5), (0.843, 1.87, 0.5), (0.848, -1.79, 0.5), (0.853, -1.35, 0.5), (0.859, 1.55, 0.5),
    (0.867, -0.49, 0.5), (0.871, 2.02, 0.5), (0.881, 1.63, 0.5), (0.886, -2.45, 0.5), (0.889, 3.39, 0.5),
    (0.897, 3.95, 0.8), (0.900, 1.19, 0.5), (0.910, -0.49, 0.5), (0.918, 5.20, 0.6), (0.922, 0.61, 0.5),
    (0.926, 2.02, 0.5), (0.935, -0.25, 0.5), (0.937, -1.58, 0.5), (0.945, -0.25, 0.5), (0.951, 2.10, 0.5),
    (0.953, 3.28, 0.7), (0.958, 3.28, 0.7), (0.963, -2.05, 0.5), (0.968, 1.24, 0.5), (0.977, -1.85, 0.5),
    (0.978, 0.30, 0.5), (0.983, 1.40, 0.5), (0.988, -3.86, 0.5), (0.991, -0.56, 0.5), (0.993, -1.50, 0.5),
    (0.995, 3.67, 0.5), (0.993, 1.32, 0.5),
]
GREEN_E = [
    (0.008, -1.69, 0.8), (0.031, 4.22, 0.9), (0.035, 2.49, 0.8), (0.043, -2.01, 0.8), (0.047, -1.82, 0.8),
    (0.069, 4.66, 0.9), (0.071, 5.27, 0.9), (0.082, -2.01, 0.9), (0.081, -7.38, 0.9), (0.106, 4.06, 0.8),
    (0.112, 3.23, 0.8), (0.123, -0.56, 0.8), (0.148, 2.34, 0.8), (0.153, 2.54, 0.8), (0.150, 1.16, 0.8),
    (0.161, -1.19, 0.8), (0.163, -1.35, 0.8), (0.189, 2.34, 0.8), (0.194, 2.10, 0.8), (0.199, -0.49, 0.8),
    (0.232, 0.77, 0.8), (0.265, 2.49, 0.8), (0.270, 3.48, 0.9), (0.278, -1.74, 0.8), (0.281, -0.88, 0.8),
    (0.285, -0.64, 0.8), (0.308, 1.82, 0.8), (0.312, 2.57, 0.9), (0.316, -1.43, 0.8), (0.319, -1.50, 0.8),
    (0.326, 1.00, 0.8), (0.332, 1.32, 0.8), (0.347, 2.02, 0.8), (0.349, 2.65, 0.8), (0.358, 0.85, 0.8),
    (0.357, -1.82, 0.9), (0.359, -0.02, 0.8), (0.372, -0.02, 0.8), (0.387, 0.92, 0.8), (0.395, -2.99, 0.9),
    (0.400, -3.39, 0.9), (0.408, 0.45, 0.8), (0.426, -0.41, 0.8), (0.431, -0.96, 0.8), (0.446, 1.13, 0.8),
    (0.463, -2.13, 0.8), (0.470, -0.33, 0.8), (0.495, 1.79, 0.8), (0.497, -3.15, 0.9), (0.500, -4.80, 0.9),
    (0.515, -3.23, 0.9), (0.573, -1.11, 0.8), (0.581, -1.50, 0.8), (0.594, -0.17, 0.8), (0.606, 1.32, 0.8),
    (0.609, 1.63, 0.9), (0.645, 2.34, 0.8), (0.651, 2.18, 0.8), (0.683, 0.38, 0.8), (0.688, 0.61, 0.8),
    (0.724, 0.69, 0.8), (0.728, -0.41, 0.8), (0.750, -4.76, 0.9), (0.757, -3.35, 0.9), (0.793, -1.35, 0.8),
    (0.796, -0.56, 0.8), (0.822, 3.04, 0.8), (0.836, 0.69, 0.8), (0.871, 1.47, 0.8), (0.875, 1.16, 0.8),
    (0.898, 4.17, 0.9), (0.905, 3.35, 0.9), (0.942, 2.65, 0.8), (0.945, 2.60, 0.9), (0.963, -0.69, 0.9),
    (0.968, -0.91, 0.9),
]
BLUE_E = [
    (0.044, 0.53, 0.63), (0.131, 0.69, 0.63), (0.214, 0.38, 0.62), (0.310, -0.09, 0.65), (0.391, -0.77, 0.62),
    (0.498, -0.94, 0.60), (0.649, -0.14, 0.65), (0.754, -0.27, 0.62), (0.853, 0.38, 0.63), (0.960, 0.69, 0.63),
]

RED = [RED_B, RED_C, RED_D, RED_E]
GREEN = [GREEN_B, GREEN_C, GREEN_D, GREEN_E]
BLUE = [BLUE_B, BLUE_C, BLUE_D, BLUE_E]

FRAME_W, FRAME_H = 654, 359
LEFT_TOTAL = 129


def make_source(points):
    xs = [p[0] for p in points]
    ys = [p[1] for p in points]
    es = [p[2] for p in points]
    return ColumnDataSource(dict(x=xs, y=ys,
                                 lo=[y - e for y, e in zip(ys, es)],
                                 hi=[y + e for y, e in zip(ys, es)]))


def style_axis(ax, size="31px"):
    ax.axis_line_color = None
    ax.major_tick_in = 0
    ax.major_tick_out = 10
    ax.major_tick_line_width = 2
    ax.major_tick_line_color = "black"
    ax.minor_tick_in = 0
    ax.minor_tick_out = 0
    ax.major_label_text_font = FONT
    ax.major_label_text_font_size = size
    ax.major_label_text_color = "black"


rows = []
for i in range(4):
    last = (i == 3)
    ylo, yhi = Y_RANGES[i]
    top = 14 if i == 0 else 16
    bottom = 95 if last else 15
    lab_w = 54 if i == 2 else 67          # width of the strip that carries the y label
    main_left = LEFT_TOTAL - lab_w
    label_dist = 86.0 if i == 2 else 73.5  # baseline distance left of the data frame

    # --- strip with the rotated y-axis label (pixel coordinates) ---
    lab = figure(frame_width=lab_w, frame_height=FRAME_H,
                 x_range=Range1d(0, lab_w), y_range=Range1d(0, FRAME_H),
                 output_backend="svg", toolbar_location=None,
                 x_axis_type=None, y_axis_type=None,
                 min_border_left=0, min_border_right=0,
                 min_border_top=top, min_border_bottom=bottom)
    lab.grid.visible = False
    lab.outline_line_color = None
    lab.background_fill_color = "white"
    lab.border_fill_color = "white"
    base = lab_w - (label_dist - main_left)
    pieces = [("\u0394", "31px", "normal", 0, 114),
              ("v", "32px", "italic", 0, 133),
              (PLANETS[i], "22px", "normal", 4.5, 149),
              ("(m/s)", "33px", "normal", 0, 174)]
    for txt, fs, style, dx, ystart in pieces:
        lab.add_layout(Label(x=base + dx, y=ystart, x_units="data", y_units="data",
                             text=txt, angle=math.pi / 2, angle_units="rad",
                             text_align="left", text_baseline="alphabetic",
                             text_font=FONT, text_font_size=fs,
                             text_font_style=style, text_color="black"))

    # --- data panel ---
    p = figure(frame_width=FRAME_W, frame_height=FRAME_H,
               x_range=Range1d(0, 1), y_range=Range1d(ylo, yhi),
               output_backend="svg", toolbar_location=None,
               min_border_left=main_left, min_border_right=40,
               min_border_top=top, min_border_bottom=bottom)
    p.grid.visible = False
    p.outline_line_color = "black"
    p.outline_line_width = 2
    p.outline_line_alpha = 1.0
    p.background_fill_color = "white"
    p.border_fill_color = "white"

    xa = p.xaxis[0]
    ya = p.yaxis[0]
    style_axis(ya)
    ya.ticker = FixedTicker(ticks=Y_TICKS[i])
    ya.major_label_overrides = {t: ("\u2212" + str(abs(t)) if t < 0 else str(t)) for t in Y_TICKS[i]}
    ya.major_label_standoff = 9
    style_axis(xa)
    xa.ticker = FixedTicker(ticks=PHASE_TICKS)
    if last:
        xa.formatter = NumeralTickFormatter(format="0.0")
        xa.major_label_standoff = 8
        xa.axis_label = "\u03d5"
        xa.axis_label_text_font = FONT
        xa.axis_label_text_font_style = "italic"
        xa.axis_label_text_font_size = "31px"
        xa.axis_label_text_color = "black"
        xa.axis_label_standoff = 8
    else:
        xa.major_label_overrides = {t: "" for t in PHASE_TICKS}
        xa.major_label_standoff = 0

    rs = make_source(RED[i])
    p.segment(x0="x", y0="lo", x1="x", y1="hi", source=rs, line_color="red", line_alpha=0.3, line_width=2.6)
    p.scatter(x="x", y="y", source=rs, size=7, marker="circle", fill_color="red", fill_alpha=0.3,
              line_color="red", line_alpha=0.3, line_width=1)
    gs = make_source(GREEN[i])
    p.segment(x0="x", y0="lo", x1="x", y1="hi", source=gs, line_color="green", line_alpha=0.3, line_width=2.6)
    p.scatter(x="x", y="y", source=gs, size=7, marker="circle", fill_color="green", fill_alpha=0.3,
              line_color="green", line_alpha=0.3, line_width=1)

    phase = np.linspace(0.0, 1.0, 301)
    p.line(phase, AMPLITUDE[i] * np.cos(2 * math.pi * phase), line_color="black", line_width=3)

    bs = make_source(BLUE[i])
    p.segment(x0="x", y0="lo", x1="x", y1="hi", source=bs, line_color="blue", line_width=3)
    p.scatter(x="x", y="y", source=bs, size=11, marker="circle", fill_color="blue", line_color="blue")

    rows.append(row(lab, p, spacing=0))

layout = column(*rows, spacing=0)
open("out.html", "w").write(file_html(layout, INLINE))
